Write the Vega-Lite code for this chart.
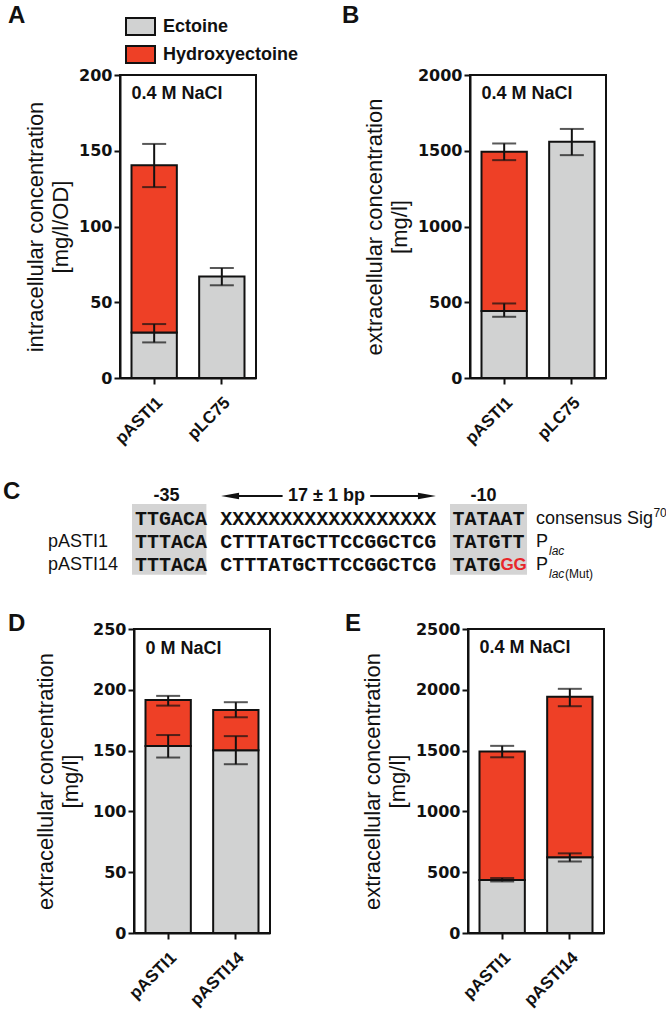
{
  "$schema": "https://vega.github.io/schema/vega-lite/v6.json",
  "background": "white",
  "padding": {"left": 0, "top": 3, "right": 0, "bottom": 0},
  "datasets": {
    "bars": [
      {"panel": "A", "strain": "pASTI1", "compound": "Ectoine", "value": 30, "lo": 23.5, "hi": 35.6},
      {"panel": "A", "strain": "pASTI1", "compound": "Hydroxyectoine", "value": 110.4, "lo": 126, "hi": 154.5},
      {"panel": "A", "strain": "pLC75", "compound": "Ectoine", "value": 67, "lo": 61.2, "hi": 72.6},
      {"panel": "B", "strain": "pASTI1", "compound": "Ectoine", "value": 443, "lo": 404, "hi": 492},
      {"panel": "B", "strain": "pASTI1", "compound": "Hydroxyectoine", "value": 1050, "lo": 1438, "hi": 1548},
      {"panel": "B", "strain": "pLC75", "compound": "Ectoine", "value": 1559, "lo": 1471, "hi": 1644},
      {"panel": "D", "strain": "pASTI1", "compound": "Ectoine", "value": 153.7, "lo": 144.3, "hi": 162.8},
      {"panel": "D", "strain": "pASTI1", "compound": "Hydroxyectoine", "value": 38, "lo": 187, "hi": 195},
      {"panel": "D", "strain": "pASTI14", "compound": "Ectoine", "value": 150.3, "lo": 138.8, "hi": 161.9},
      {"panel": "D", "strain": "pASTI14", "compound": "Hydroxyectoine", "value": 33.1, "lo": 177.4, "hi": 189.8},
      {"panel": "E", "strain": "pASTI1", "compound": "Ectoine", "value": 436, "lo": 424, "hi": 452},
      {"panel": "E", "strain": "pASTI1", "compound": "Hydroxyectoine", "value": 1056, "lo": 1445, "hi": 1539},
      {"panel": "E", "strain": "pASTI14", "compound": "Ectoine", "value": 622, "lo": 588, "hi": 655},
      {"panel": "E", "strain": "pASTI14", "compound": "Hydroxyectoine", "value": 1320, "lo": 1865, "hi": 2008}
    ],
    "notes": [
      {"panel": "A", "note": "0.4 M NaCl"},
      {"panel": "B", "note": "0.4 M NaCl"},
      {"panel": "D", "note": "0 M NaCl"},
      {"panel": "E", "note": "0.4 M NaCl"}
    ],
    "promoter": [
      {"kind": "head", "text": "-35", "col": 13.625, "row": 0},
      {"kind": "head", "text": "17 ± 1 bp", "col": 26.96, "row": 0},
      {"kind": "head", "text": "-10", "col": 40.04, "row": 0},
      {"kind": "seq", "text": "TTGACA", "col": 11, "row": 1},
      {"kind": "seq", "text": "XXXXXXXXXXXXXXXXXX", "col": 18.1, "row": 1},
      {"kind": "seq", "text": "TATAAT", "col": 37.45, "row": 1},
      {"kind": "seq", "text": "TTTACA", "col": 11, "row": 2},
      {"kind": "seq", "text": "CTTTATGCTTCCGGCTCG", "col": 18.1, "row": 2},
      {"kind": "seq", "text": "TATGTT", "col": 37.45, "row": 2},
      {"kind": "seq", "text": "TTTACA", "col": 11, "row": 3},
      {"kind": "seq", "text": "CTTTATGCTTCCGGCTCG", "col": 18.1, "row": 3},
      {"kind": "seq", "text": "TATG", "col": 37.45, "row": 3},
      {"kind": "mut", "text": "GG", "col": 41.45, "row": 3},
      {"kind": "name", "text": "pASTI1", "col": 3.75, "row": 2},
      {"kind": "name", "text": "pASTI14", "col": 3.75, "row": 3},
      {"kind": "name", "text": "consensus Sig", "col": 44.42, "row": 1},
      {"kind": "name", "text": "P", "col": 44.42, "row": 2},
      {"kind": "name", "text": "P", "col": 44.42, "row": 3},
      {"kind": "small", "text": "70", "col": 54.2, "row": 0.75},
      {"kind": "italic", "text": "lac", "col": 45.5, "row": 2.4},
      {"kind": "italic", "text": "lac", "col": 45.5, "row": 3.4},
      {"kind": "small", "text": "(Mut)", "col": 46.83, "row": 3.4}
    ],
    "boxes": [
      {"x1": 10.75, "x2": 16.95, "y1": 0.35, "y2": 3.42},
      {"x1": 37.25, "x2": 43.67, "y1": 0.35, "y2": 3.42}
    ],
    "arrowLine": [
      {"x1": 19.0, "x2": 23.3, "row": 0},
      {"x1": 30.6, "x2": 35.5, "row": 0}
    ],
    "arrowHead": [
      {"dir": "left", "col": 18.92, "row": 0},
      {"dir": "right", "col": 35.33, "row": 0}
    ]
  },
  "config": {
    "view": {"stroke": "#111", "strokeWidth": 2},
    "axis": {
      "domainColor": "#111", "domainWidth": 2, "tickColor": "#111", "tickWidth": 2, "tickSize": 6,
      "labelColor": "#111", "labelFont": "DejaVu Sans", "labelFontWeight": "bold", "labelFontSize": 16, "labelPadding": 2,
      "titleFont": "Liberation Sans", "titleFontWeight": "normal", "titleFontSize": 22, "titleColor": "#111",
      "titleLineHeight": 25, "titlePadding": 6, "grid": false, "labelOverlap": false
    },
    "axisX": {"labelAngle": -45, "labelFont": "Liberation Sans", "labelFontSize": 17, "labelPadding": 10},
    "title": {"font": "Liberation Sans", "fontSize": 24, "fontWeight": "bold", "color": "#111", "anchor": "start", "frame": "group", "baseline": "alphabetic", "orient": "top"}
  },
  "spacing": 18,
  "vconcat": [
    {
      "spacing": 0,
      "hconcat": [
        {"width": 1, "height": 1, "view": {"stroke": null}, "data": {"values": [{"k": 1}]}, "mark": {"type": "point", "opacity": 0}},
        {
          "spacing": 84,
          "hconcat": [
            {
              "width": 136, "height": 303,
              "title": {"text": "A", "dx": -112, "offset": 39, "baseline": "top"},
              "encoding": {"x": {"field": "strain", "type": "nominal", "sort": null, "scale": {"paddingInner": 0.33, "paddingOuter": 0.17}, "axis": {"title": null}}},
              "layer": [
                {
                  "data": {"name": "bars"}, "transform": [{"filter": "datum.panel === 'A'"}],
                  "mark": {"type": "bar", "stroke": "#111", "strokeWidth": 2},
                  "encoding": {
                    "y": {"field": "value", "type": "quantitative", "scale": {"domain": [0, 200], "nice": false}, "axis": {"title": ["intracellular concentration", "[mg/l/OD]"], "titleLineHeight": 25, "values": [0, 50, 100, 150, 200], "format": "d"}},
                    "order": {"field": "compound", "type": "nominal", "sort": "ascending"},
                    "color": {"field": "compound", "type": "nominal", "scale": {"domain": ["Ectoine", "Hydroxyectoine"], "range": ["#d1d2d2", "#ee4026"]},
                      "legend": {"orient": "none", "legendX": 122, "legendY": -64, "title": null, "padding": 0,
                        "symbolType": "M-1,-0.586L1,-0.586L1,0.586L-1,0.586Z", "symbolSize": 841, "symbolStrokeColor": "#111", "symbolStrokeWidth": 2, "symbolOpacity": 1,
                        "labelFont": "Liberation Sans", "labelFontWeight": "bold", "labelFontSize": 18, "labelColor": "#111", "labelOffset": 7, "rowPadding": -3, "symbolOffset": 0}}
                  }
                },
                {
                  "data": {"name": "bars"}, "transform": [{"filter": "datum.panel === 'A'"}],
                  "mark": {"type": "errorbar", "color": "#111", "thickness": 2, "ticks": {"size": 24}},
                  "encoding": {"y": {"field": "lo", "type": "quantitative", "scale": {"domain": [0, 200], "nice": false}, "axis": {"title": ["intracellular concentration", "[mg/l/OD]"], "titleLineHeight": 25, "values": [0, 50, 100, 150, 200], "format": "d"}}, "y2": {"field": "hi"}}
                },
                {
                  "data": {"name": "notes"}, "transform": [{"filter": "datum.panel === 'A'"}],
                  "mark": {"type": "text", "align": "left", "baseline": "alphabetic", "font": "Liberation Sans", "fontWeight": "bold", "fontSize": 18, "color": "#111"},
                  "encoding": {"x": {"datum": "pASTI1", "bandPosition": 0}, "y": {"datum": 184}, "text": {"field": "note"}}
                }
              ]
            },
            {
              "width": 136, "height": 303,
              "title": {"text": "B", "dx": -128, "offset": 39, "baseline": "top"},
              "encoding": {"x": {"field": "strain", "type": "nominal", "sort": null, "scale": {"paddingInner": 0.33, "paddingOuter": 0.17}, "axis": {"title": null}}},
              "layer": [
                {
                  "data": {"name": "bars"}, "transform": [{"filter": "datum.panel === 'B'"}],
                  "mark": {"type": "bar", "stroke": "#111", "strokeWidth": 2},
                  "encoding": {
                    "y": {"field": "value", "type": "quantitative", "scale": {"domain": [0, 2000], "nice": false}, "axis": {"title": ["extracellular concentration", "[mg/l]"], "values": [0, 500, 1000, 1500, 2000], "format": "d"}},
                    "order": {"field": "compound", "type": "nominal", "sort": "ascending"},
                    "color": {"field": "compound", "type": "nominal", "scale": {"domain": ["Ectoine", "Hydroxyectoine"], "range": ["#d1d2d2", "#ee4026"]}, "legend": null}
                  }
                },
                {
                  "data": {"name": "bars"}, "transform": [{"filter": "datum.panel === 'B'"}],
                  "mark": {"type": "errorbar", "color": "#111", "thickness": 2, "ticks": {"size": 24}},
                  "encoding": {"y": {"field": "lo", "type": "quantitative", "scale": {"domain": [0, 2000], "nice": false}, "axis": {"title": ["extracellular concentration", "[mg/l]"], "values": [0, 500, 1000, 1500, 2000], "format": "d"}}, "y2": {"field": "hi"}}
                },
                {
                  "data": {"name": "notes"}, "transform": [{"filter": "datum.panel === 'B'"}],
                  "mark": {"type": "text", "align": "left", "baseline": "alphabetic", "font": "Liberation Sans", "fontWeight": "bold", "fontSize": 18, "color": "#111"},
                  "encoding": {"x": {"datum": "pASTI1", "bandPosition": 0}, "y": {"datum": 1842}, "text": {"field": "note"}}
                }
              ]
            }
          ]
        }
      ]
    },
    {
      "width": 666, "height": 127,
      "view": {"stroke": null},
      "title": {"text": "C", "dx": 0, "offset": -38},
      "layer": [
        {
          "data": {"name": "boxes"},
          "mark": {"type": "rect", "color": "#d4d4d4"},
          "encoding": {
            "x": {"field": "x1", "type": "quantitative", "scale": {"domain": [0, 55.5], "nice": false, "zero": false}, "axis": null},
            "x2": {"field": "x2"},
            "y": {"field": "y1", "type": "quantitative", "scale": {"domain": [-1.3043, 4.2174], "reverse": true, "nice": false, "zero": false}, "axis": null},
            "y2": {"field": "y2"}
          }
        },
        {
          "data": {"name": "arrowLine"},
          "mark": {"type": "rule", "color": "#111", "strokeWidth": 2},
          "encoding": {
            "x": {"field": "x1", "type": "quantitative", "scale": {"domain": [0, 55.5], "nice": false, "zero": false}, "axis": null},
            "x2": {"field": "x2"},
            "y": {"field": "row", "type": "quantitative", "scale": {"domain": [-1.3043, 4.2174], "reverse": true, "nice": false, "zero": false}, "axis": null}
          }
        },
        {
          "data": {"name": "arrowHead"},
          "mark": {"type": "point", "filled": true, "color": "#111", "size": 324, "opacity": 1},
          "encoding": {
            "x": {"field": "col", "type": "quantitative", "scale": {"domain": [0, 55.5], "nice": false, "zero": false}, "axis": null},
            "y": {"field": "row", "type": "quantitative", "scale": {"domain": [-1.3043, 4.2174], "reverse": true, "nice": false, "zero": false}, "axis": null},
            "shape": {"field": "dir", "type": "nominal", "scale": {"domain": ["left", "right"], "range": ["M-1,0L1,-0.35L1,0.35Z", "M1,0L-1,-0.35L-1,0.35Z"]}, "legend": null}
          }
        },
        {
          "data": {"name": "promoter"}, "transform": [{"filter": "datum.kind === 'head'"}],
          "mark": {"type": "text", "align": "center", "baseline": "middle", "font": "Liberation Sans", "fontWeight": "bold", "fontSize": 18, "color": "#111"},
          "encoding": {
            "x": {"field": "col", "type": "quantitative", "scale": {"domain": [0, 55.5], "nice": false, "zero": false}, "axis": null},
            "y": {"field": "row", "type": "quantitative", "scale": {"domain": [-1.3043, 4.2174], "reverse": true, "nice": false, "zero": false}, "axis": null},
            "text": {"field": "text"}
          }
        },
        {
          "data": {"name": "promoter"}, "transform": [{"filter": "datum.kind === 'seq'"}],
          "mark": {"type": "text", "align": "left", "baseline": "middle", "font": "Liberation Mono", "fontWeight": "bold", "fontSize": 20, "color": "#111"},
          "encoding": {
            "x": {"field": "col", "type": "quantitative", "scale": {"domain": [0, 55.5], "nice": false, "zero": false}, "axis": null},
            "y": {"field": "row", "type": "quantitative", "scale": {"domain": [-1.3043, 4.2174], "reverse": true, "nice": false, "zero": false}, "axis": null},
            "text": {"field": "text"}
          }
        },
        {
          "data": {"name": "promoter"}, "transform": [{"filter": "datum.kind === 'mut'"}],
          "mark": {"type": "text", "align": "left", "baseline": "middle", "font": "Liberation Sans", "fontWeight": "bold", "fontSize": 17, "color": "#e8262b"},
          "encoding": {
            "x": {"field": "col", "type": "quantitative", "scale": {"domain": [0, 55.5], "nice": false, "zero": false}, "axis": null},
            "y": {"field": "row", "type": "quantitative", "scale": {"domain": [-1.3043, 4.2174], "reverse": true, "nice": false, "zero": false}, "axis": null},
            "text": {"field": "text"}
          }
        },
        {
          "data": {"name": "promoter"}, "transform": [{"filter": "datum.kind === 'name'"}],
          "mark": {"type": "text", "align": "left", "baseline": "middle", "font": "Liberation Sans", "fontSize": 18, "color": "#111"},
          "encoding": {
            "x": {"field": "col", "type": "quantitative", "scale": {"domain": [0, 55.5], "nice": false, "zero": false}, "axis": null},
            "y": {"field": "row", "type": "quantitative", "scale": {"domain": [-1.3043, 4.2174], "reverse": true, "nice": false, "zero": false}, "axis": null},
            "text": {"field": "text"}
          }
        },
        {
          "data": {"name": "promoter"}, "transform": [{"filter": "datum.kind === 'small'"}],
          "mark": {"type": "text", "align": "left", "baseline": "middle", "font": "Liberation Sans", "fontSize": 12, "color": "#111"},
          "encoding": {
            "x": {"field": "col", "type": "quantitative", "scale": {"domain": [0, 55.5], "nice": false, "zero": false}, "axis": null},
            "y": {"field": "row", "type": "quantitative", "scale": {"domain": [-1.3043, 4.2174], "reverse": true, "nice": false, "zero": false}, "axis": null},
            "text": {"field": "text"}
          }
        },
        {
          "data": {"name": "promoter"}, "transform": [{"filter": "datum.kind === 'italic'"}],
          "mark": {"type": "text", "align": "left", "baseline": "middle", "font": "Liberation Sans", "fontStyle": "italic", "fontSize": 12, "color": "#111"},
          "encoding": {
            "x": {"field": "col", "type": "quantitative", "scale": {"domain": [0, 55.5], "nice": false, "zero": false}, "axis": null},
            "y": {"field": "row", "type": "quantitative", "scale": {"domain": [-1.3043, 4.2174], "reverse": true, "nice": false, "zero": false}, "axis": null},
            "text": {"field": "text"}
          }
        }
      ]
    },
    {
      "spacing": 0,
      "hconcat": [
        {"width": 1, "height": 1, "view": {"stroke": null}, "data": {"values": [{"k": 1}]}, "mark": {"type": "point", "opacity": 0}},
        {
          "spacing": 73,
          "hconcat": [
            {
              "width": 136, "height": 304,
              "title": {"text": "D", "dx": -126, "offset": -15},
              "encoding": {"x": {"field": "strain", "type": "nominal", "sort": null, "scale": {"paddingInner": 0.33, "paddingOuter": 0.17}, "axis": {"title": null}}},
              "layer": [
                {
                  "data": {"name": "bars"}, "transform": [{"filter": "datum.panel === 'D'"}],
                  "mark": {"type": "bar", "stroke": "#111", "strokeWidth": 2},
                  "encoding": {
                    "y": {"field": "value", "type": "quantitative", "scale": {"domain": [0, 250], "nice": false}, "axis": {"title": ["extracellular concentration", "[mg/l]"], "values": [0, 50, 100, 150, 200, 250], "format": "d", "titlePadding": 10}},
                    "order": {"field": "compound", "type": "nominal", "sort": "ascending"},
                    "color": {"field": "compound", "type": "nominal", "scale": {"domain": ["Ectoine", "Hydroxyectoine"], "range": ["#d1d2d2", "#ee4026"]}, "legend": null}
                  }
                },
                {
                  "data": {"name": "bars"}, "transform": [{"filter": "datum.panel === 'D'"}],
                  "mark": {"type": "errorbar", "color": "#111", "thickness": 2, "ticks": {"size": 24}},
                  "encoding": {"y": {"field": "lo", "type": "quantitative", "scale": {"domain": [0, 250], "nice": false}, "axis": {"title": ["extracellular concentration", "[mg/l]"], "values": [0, 50, 100, 150, 200, 250], "format": "d", "titlePadding": 10}}, "y2": {"field": "hi"}}
                },
                {
                  "data": {"name": "notes"}, "transform": [{"filter": "datum.panel === 'D'"}],
                  "mark": {"type": "text", "align": "left", "baseline": "alphabetic", "font": "Liberation Sans", "fontWeight": "bold", "fontSize": 18, "color": "#111"},
                  "encoding": {"x": {"datum": "pASTI1", "bandPosition": 0}, "y": {"datum": 229.5}, "text": {"field": "note"}}
                }
              ]
            },
            {
              "width": 136, "height": 304,
              "title": {"text": "E", "dx": -123, "offset": -15},
              "encoding": {"x": {"field": "strain", "type": "nominal", "sort": null, "scale": {"paddingInner": 0.33, "paddingOuter": 0.17}, "axis": {"title": null}}},
              "layer": [
                {
                  "data": {"name": "bars"}, "transform": [{"filter": "datum.panel === 'E'"}],
                  "mark": {"type": "bar", "stroke": "#111", "strokeWidth": 2},
                  "encoding": {
                    "y": {"field": "value", "type": "quantitative", "scale": {"domain": [0, 2500], "nice": false}, "axis": {"title": ["extracellular concentration", "[mg/l]"], "values": [0, 500, 1000, 1500, 2000, 2500], "format": "d"}},
                    "order": {"field": "compound", "type": "nominal", "sort": "ascending"},
                    "color": {"field": "compound", "type": "nominal", "scale": {"domain": ["Ectoine", "Hydroxyectoine"], "range": ["#d1d2d2", "#ee4026"]}, "legend": null}
                  }
                },
                {
                  "data": {"name": "bars"}, "transform": [{"filter": "datum.panel === 'E'"}],
                  "mark": {"type": "errorbar", "color": "#111", "thickness": 2, "ticks": {"size": 24}},
                  "encoding": {"y": {"field": "lo", "type": "quantitative", "scale": {"domain": [0, 2500], "nice": false}, "axis": {"title": ["extracellular concentration", "[mg/l]"], "values": [0, 500, 1000, 1500, 2000, 2500], "format": "d"}}, "y2": {"field": "hi"}}
                },
                {
                  "data": {"name": "notes"}, "transform": [{"filter": "datum.panel === 'E'"}],
                  "mark": {"type": "text", "align": "left", "baseline": "alphabetic", "font": "Liberation Sans", "fontWeight": "bold", "fontSize": 18, "color": "#111"},
                  "encoding": {"x": {"datum": "pASTI1", "bandPosition": 0}, "y": {"datum": 2299}, "text": {"field": "note"}}
                }
              ]
            }
          ]
        }
      ]
    }
  ]
}
